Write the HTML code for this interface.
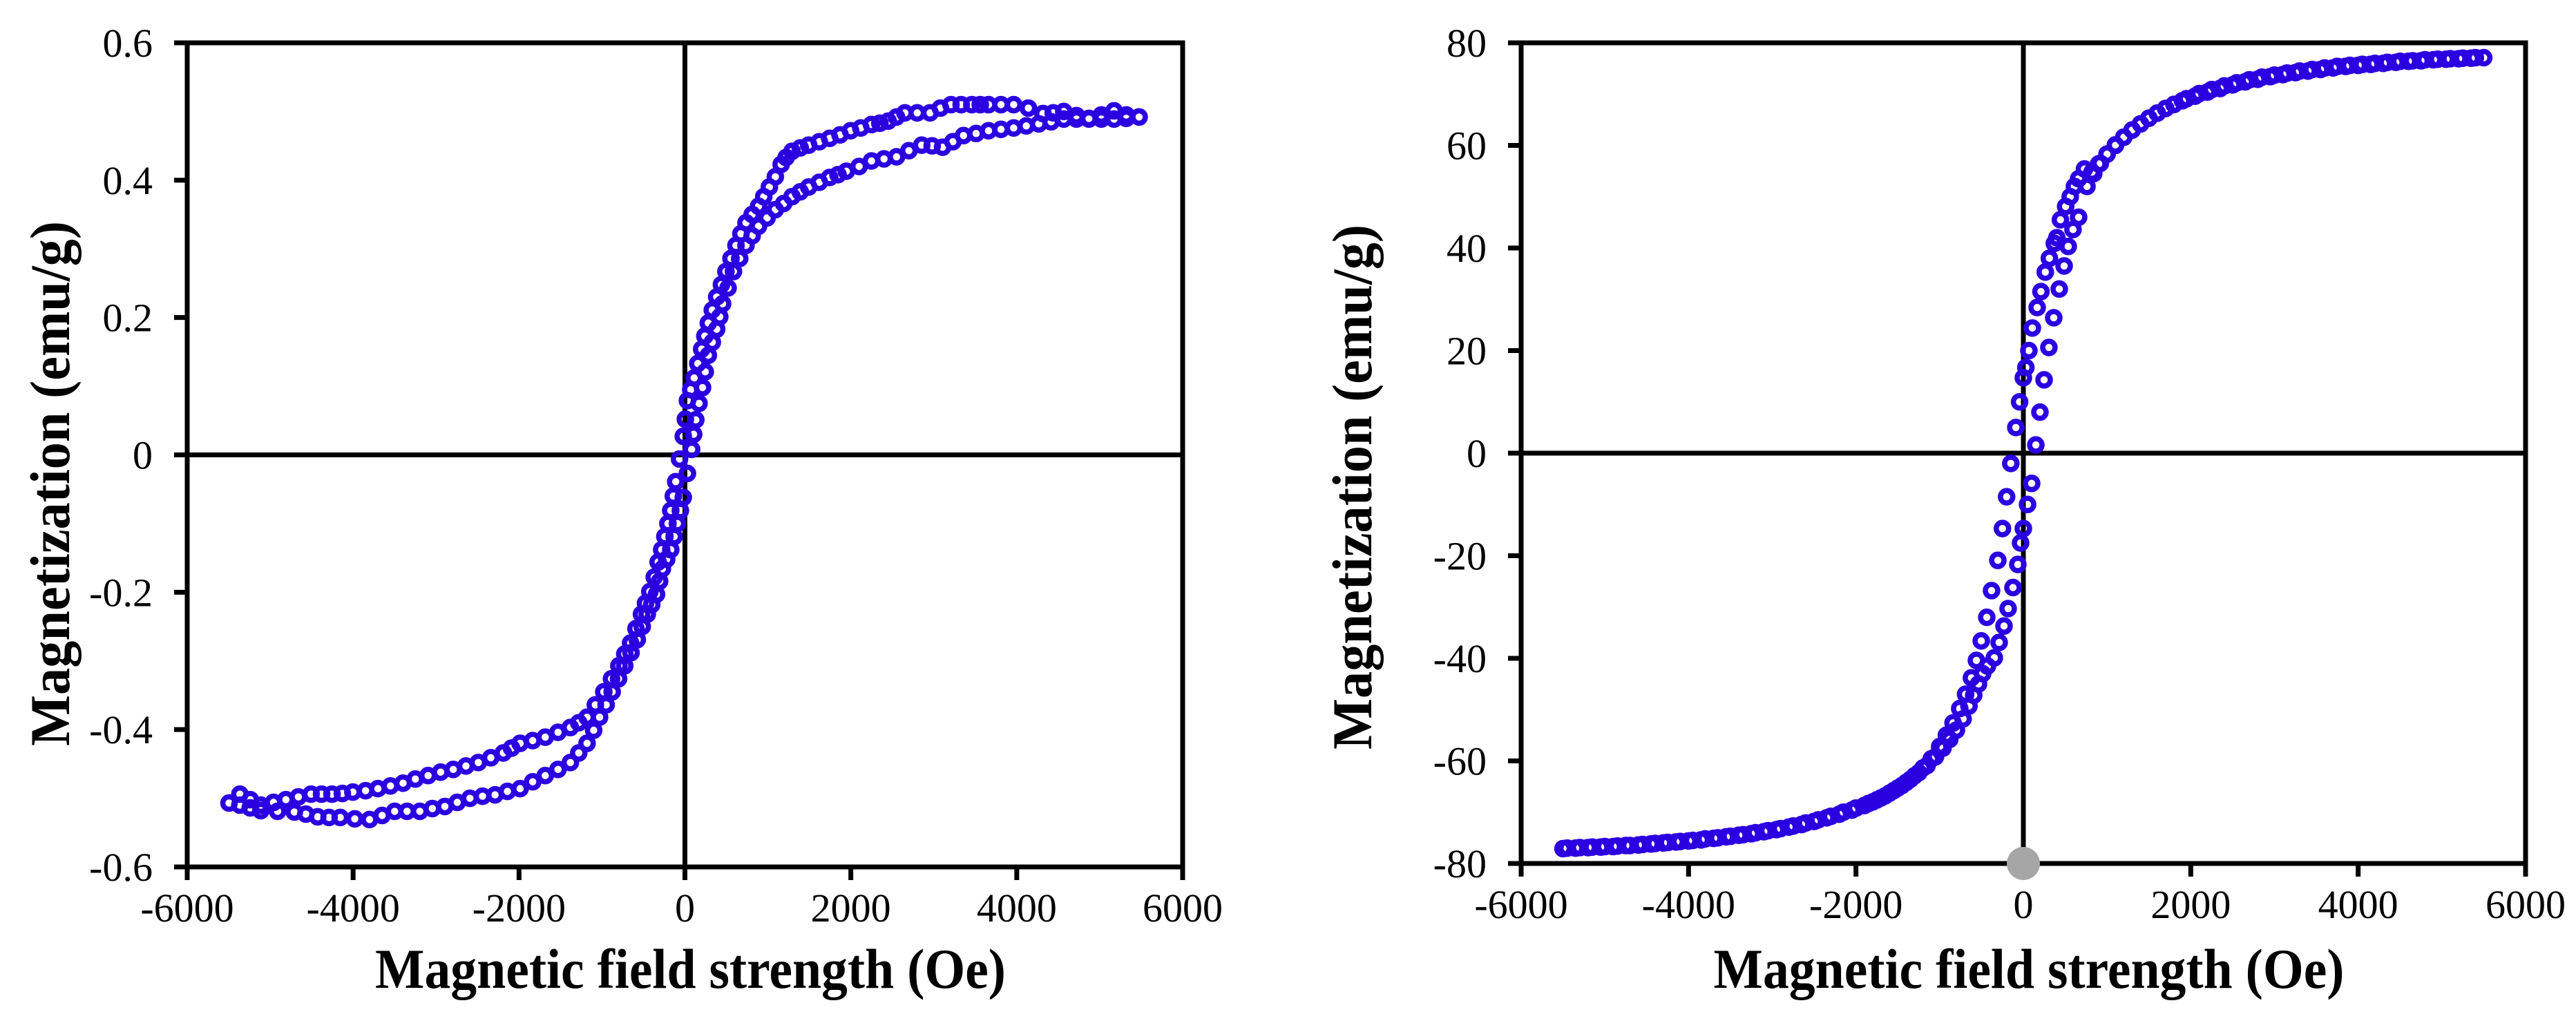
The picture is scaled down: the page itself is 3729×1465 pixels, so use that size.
<!DOCTYPE html>
<html><head><meta charset="utf-8"><style>
html,body{margin:0;padding:0;background:#fff;}
svg{display:block;font-family:"Liberation Serif","Times New Roman",serif;}
</style></head><body>
<svg id="svg" width="3729" height="1465" viewBox="0 0 3729 1465" xmlns="http://www.w3.org/2000/svg"></svg>
<script>
// ---- Left chart data (hysteresis loop, emu/g) ----
const leftDescH = [5475,5320,5173,5020,4870,4720,4567,4440,4316,4140,3963,3810,3660,3560,3459,3330,3207,3080,2955,2800,2652,2550,2450,2350,2249,2120,1997,1870,1745,1620,1492,1390,1291,1220,1160,1090,1018,950,887,810,736,675,615,555,494,440,383,330,282,240,202,155,111,70,30,5,-20,-65,-111,-140,-171,-205,-242,-280,-323,-370,-423,-475,-524,-590,-655,-725,-796,-885,-978,-1080,-1180,-1280,-1381,-1530,-1684,-1835,-1987,-2090,-2189,-2340,-2491,-2640,-2793,-2945,-3096,-3250,-3398,-3550,-3701,-3850,-4003,-4130,-4255,-4380,-4507,-4660,-4810,-4960,-5113,-5240,-5365,-5496];
const leftDescM = [0.492,0.495,0.501,0.495,0.49,0.494,0.5,0.498,0.497,0.505,0.51,0.51,0.51,0.51,0.51,0.51,0.51,0.505,0.498,0.498,0.498,0.492,0.486,0.483,0.481,0.476,0.472,0.466,0.461,0.456,0.451,0.447,0.442,0.433,0.423,0.405,0.39,0.376,0.362,0.35,0.338,0.322,0.305,0.286,0.267,0.248,0.23,0.211,0.192,0.173,0.154,0.133,0.112,0.095,0.079,0.052,0.027,-0.006,-0.039,-0.06,-0.081,-0.1,-0.119,-0.138,-0.156,-0.178,-0.199,-0.216,-0.232,-0.253,-0.274,-0.29,-0.307,-0.326,-0.345,-0.364,-0.382,-0.39,-0.397,-0.404,-0.411,-0.416,-0.42,-0.427,-0.434,-0.441,-0.448,-0.453,-0.458,-0.462,-0.467,-0.472,-0.478,-0.482,-0.486,-0.489,-0.491,-0.493,-0.494,-0.494,-0.494,-0.498,-0.502,-0.506,-0.51,-0.502,-0.494,-0.507];
const leftAscH = [-5365,-5240,-5113,-4910,-4709,-4570,-4427,-4290,-4155,-3980,-3802,-3650,-3499,-3350,-3196,-3045,-2894,-2745,-2592,-2440,-2289,-2140,-1987,-1835,-1684,-1530,-1381,-1280,-1180,-1100,-1029,-950,-877,-800,-726,-650,-575,-515,-454,-400,-343,-305,-272,-220,-171,-130,-91,-55,-20,30,81,105,131,170,212,245,282,330,383,420,454,520,585,660,736,810,887,990,1089,1190,1291,1390,1492,1620,1745,1845,1946,2100,2249,2400,2551,2700,2854,2980,3106,3230,3358,3510,3660,3810,3963,4115,4265,4415,4567,4720,4870,5020,5173,5320,5475];
const leftAscM = [-0.51,-0.514,-0.518,-0.519,-0.52,-0.523,-0.527,-0.528,-0.528,-0.53,-0.531,-0.525,-0.519,-0.519,-0.519,-0.515,-0.512,-0.506,-0.5,-0.497,-0.495,-0.49,-0.486,-0.476,-0.467,-0.458,-0.448,-0.434,-0.42,-0.401,-0.382,-0.364,-0.345,-0.326,-0.307,-0.288,-0.269,-0.25,-0.232,-0.218,-0.203,-0.184,-0.166,-0.152,-0.138,-0.119,-0.1,-0.081,-0.062,-0.027,0.008,0.03,0.051,0.075,0.098,0.121,0.145,0.164,0.183,0.201,0.22,0.243,0.267,0.286,0.305,0.319,0.333,0.345,0.357,0.366,0.376,0.383,0.39,0.397,0.404,0.408,0.413,0.42,0.428,0.431,0.434,0.443,0.451,0.45,0.448,0.456,0.465,0.468,0.472,0.474,0.476,0.479,0.482,0.485,0.489,0.489,0.489,0.489,0.489,0.49,0.492];
const leftYTicks = [-0.6,-0.4,-0.2,0,0.2,0.4,0.6];
const leftYLabels = ["-0.6","-0.4","-0.2","0","0.2","0.4","0.6"];
// ---- Right chart data ----
const rightDescH = [5500,5350,5200,5050,4900,4750,4600,4450,4300,4150,4000,3850,3700,3550,3400,3250,3100,2950,2800,2650,2500,2350,2200,2050,1900,1800,1700,1600,1500,1400,1300,1200,1100,1000,900,820,730,660,610,560,505,443,400,370,311,262,210,165,107,66,30,0,-45,-90,-150,-200,-250,-305,-380,-437,-503,-561,-620,-690,-760,-840,-920,-1000,-1100,-1200,-1300,-1400,-1500,-1600,-1700,-1800,-1900,-2050,-2200,-2350,-2500,-2650,-2800,-2950,-3100,-3250,-3400,-3550,-3700,-3850,-4000,-4150,-4300,-4450,-4600,-4750,-4900,-5050,-5200,-5350,-5500];
const rightDescM = [77.1,77.0,76.9,76.8,76.7,76.5,76.4,76.2,76.0,75.8,75.6,75.4,75.1,74.8,74.5,74.2,73.8,73.4,72.9,72.4,71.8,71.1,70.4,69.6,68.7,68.0,67.2,66.3,65.3,64.2,63.0,61.6,60.1,58.3,56.4,54.8,55.4,53.5,52.0,50.0,48.1,45.5,42.0,40.9,38.0,35.3,31.5,28.4,24.4,20.0,16.7,14.7,10.0,5.0,-2.0,-8.5,-14.7,-20.9,-26.8,-32.0,-36.6,-40.4,-43.8,-47.0,-49.8,-52.6,-55.0,-57.2,-59.6,-61.4,-62.9,-64.2,-65.3,-66.3,-67.2,-68.0,-68.7,-69.6,-70.4,-71.1,-71.8,-72.4,-72.9,-73.4,-73.8,-74.2,-74.5,-74.8,-75.1,-75.4,-75.6,-75.8,-76.0,-76.2,-76.4,-76.5,-76.7,-76.8,-76.9,-77.0,-77.1];
const rightAscH = [-5450,-5300,-5150,-5000,-4850,-4700,-4550,-4400,-4250,-4100,-3950,-3800,-3650,-3500,-3350,-3200,-3050,-2900,-2750,-2600,-2450,-2300,-2150,-2000,-1850,-1750,-1650,-1550,-1450,-1350,-1250,-1150,-1050,-960,-880,-800,-720,-650,-593,-536,-487,-429,-347,-289,-231,-182,-124,-66,-33,0,50,99,149,198,248,305,363,429,487,536,593,660,760,840,920,1000,1100,1200,1300,1400,1500,1600,1700,1800,1950,2100,2250,2400,2550,2700,2850,3000,3150,3300,3450,3600,3750,3900,4050,4200,4350,4500,4650,4800,4950,5100,5250,5400];
const rightAscM = [-77.0,-76.9,-76.8,-76.7,-76.6,-76.5,-76.3,-76.1,-75.9,-75.7,-75.5,-75.2,-75.0,-74.7,-74.4,-74.0,-73.6,-73.2,-72.7,-72.1,-71.5,-70.8,-70.0,-69.2,-68.3,-67.6,-66.8,-65.8,-64.8,-63.6,-62.3,-60.9,-59.2,-57.5,-55.8,-54.0,-51.8,-49.3,-47.2,-45.0,-43.0,-41.5,-39.9,-36.9,-33.7,-30.3,-26.2,-21.7,-17.5,-14.7,-10.0,-5.9,1.6,8.0,14.3,20.6,26.4,32.0,36.5,40.3,43.6,46.0,52.0,54.5,56.5,58.3,60.0,61.6,63.0,64.2,65.3,66.3,67.2,68.0,69.1,70.1,70.9,71.6,72.2,72.8,73.3,73.7,74.1,74.5,74.8,75.1,75.4,75.6,75.8,76.0,76.2,76.4,76.5,76.7,76.8,76.9,77.0,77.1];
const rightYTicks = [-80,-60,-40,-20,0,20,40,60,80];
const rightYLabels = ["-80","-60","-40","-20","0","20","40","60","80"];
const xTicks = [-6000,-4000,-2000,0,2000,4000,6000];
const xLabels = ["-6000","-4000","-2000","0","2000","4000","6000"];

const NS = "http://www.w3.org/2000/svg";
const svg = document.getElementById('svg');
function mk(tag, attrs, parent){
  const e = document.createElementNS(NS, tag);
  for (const k in attrs) e.setAttribute(k, attrs[k]);
  (parent||svg).appendChild(e);
  return e;
}

function drawChart(cfg){
  const g = mk('g', {});
  
  
  const xs = v => cfg.L + (v - (-6000)) / 12000 * (cfg.R - cfg.L);
  const ys = v => cfg.B - (v - cfg.ymin) / (cfg.ymax - cfg.ymin) * (cfg.B - cfg.T);
  const fr = mk('rect', {x:cfg.L, y:cfg.T, width:cfg.R-cfg.L, height:cfg.B-cfg.T, fill:'none', stroke:'#000', 'stroke-width':7}, g);
  
  
  const zx = mk('line', {x1:xs(0), x2:xs(0), y1:cfg.T, y2:cfg.B, stroke:'#000', 'stroke-width':7}, g);
  
  
  const zy = mk('line', {x1:cfg.L, x2:cfg.R, y1:ys(0), y2:ys(0), stroke:'#000', 'stroke-width':7}, g);
  
  
  cfg.yTicks.forEach((v, i) => {
    const y = ys(v);
    const t = mk('line', {x1:cfg.L-19, x2:cfg.L, y1:y, y2:y, stroke:'#000', 'stroke-width':7}, g);
    
    
    const lb = mk('text', {x:cfg.L-50, y:y+20, 'text-anchor':'end', 'font-size':58, fill:'#000'}, g);
    lb.textContent = cfg.yLabels[i];
    
    
  });
  xTicks.forEach((v, i) => {
    const x = xs(v);
    const t = mk('line', {x1:x, x2:x, y1:cfg.B, y2:cfg.B+19, stroke:'#000', 'stroke-width':7}, g);
    
    
    const lb = mk('text', {x:x, y:cfg.B+79, 'text-anchor':'middle', 'font-size':58, fill:'#000'}, g);
    lb.textContent = xLabels[i];
    
    
  });
  const xt = mk('text', {x:(cfg.L+cfg.R)/2+8, y:1430, 'text-anchor':'middle', 'font-size':82, 'font-weight':'bold', textLength:913, lengthAdjust:'spacingAndGlyphs', fill:'#000'}, g);
  xt.textContent = 'Magnetic field strength (Oe)';
  
  
  const yt = mk('text', {x:0, y:0, 'text-anchor':'middle', 'font-size':82, 'font-weight':'bold', textLength:760, lengthAdjust:'spacingAndGlyphs', fill:'#000', transform:`translate(${cfg.ytx},${cfg.yty}) rotate(-90)`}, g);
  yt.textContent = 'Magnetization (emu/g)';
  
  
  if (cfg.grayDot) {
    const d = mk('circle', {cx:xs(0), cy:cfg.B, r:24, fill:'#a6a6a6'}, g);
    
    
  }
  const series = [[cfg.dH, cfg.dM, 'descending-branch'], [cfg.aH, cfg.aM, 'ascending-branch']];
  series.forEach(s => {
    const sg = mk('g', {}, g);
    
    
    s[0].forEach((h, i) => {
      const c = mk('circle', {cx:xs(h), cy:ys(s[1][i]), r:9, fill:'none', stroke:'#2b00e0', 'stroke-width':7.5}, sg);
      
      
    });
  });
}

drawChart({name:'left-chart', L:271, R:1712, T:62, B:1255, ymin:-0.6, ymax:0.6,
  yTicks:leftYTicks, yLabels:leftYLabels, dH:leftDescH, dM:leftDescM, aH:leftAscH, aM:leftAscM,
  ytx:100, yty:700, grayDot:false});
drawChart({name:'right-chart', L:2202, R:3656, T:62, B:1250, ymin:-80, ymax:80,
  yTicks:rightYTicks, yLabels:rightYLabels, dH:rightDescH, dM:rightDescM, aH:rightAscH, aM:rightAscM,
  ytx:1985, yty:705, grayDot:true});
</script>
</body></html>
